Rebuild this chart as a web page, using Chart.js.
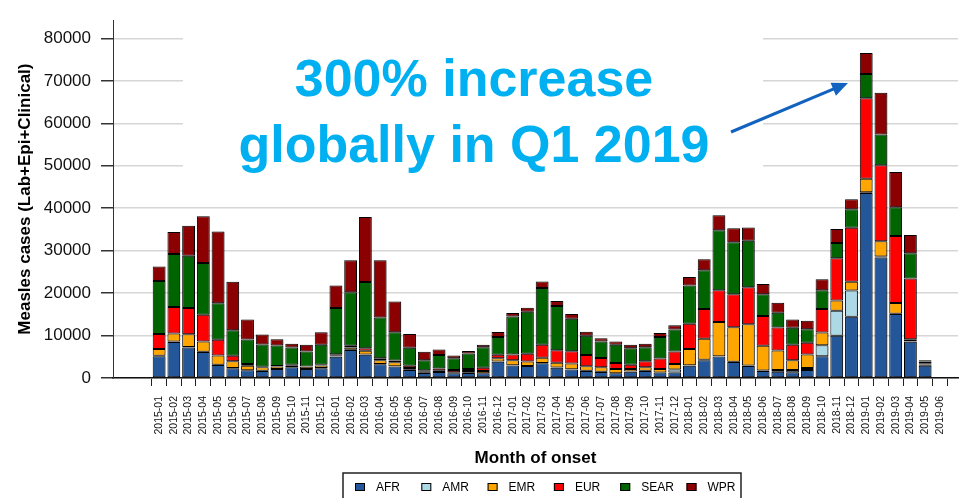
<!DOCTYPE html>
<html>
<head>
<meta charset="utf-8">
<script src="https://cdn.jsdelivr.net/npm/chart.js@4.4.1/dist/chart.umd.min.js"></script>
<style>
  body { margin: 0; background: #fff; }
  #wrap { width: 977px; height: 498px; }
</style>
</head>
<body>
<div id="wrap"><canvas id="measles" width="977" height="498"></canvas></div>
<script>
// Monthly measles cases by WHO region, 2015-01 .. 2019-06
const months = [
  '2015-01','2015-02','2015-03','2015-04','2015-05','2015-06','2015-07','2015-08','2015-09','2015-10','2015-11','2015-12',
  '2016-01','2016-02','2016-03','2016-04','2016-05','2016-06','2016-07','2016-08','2016-09','2016-10','2016-11','2016-12',
  '2017-01','2017-02','2017-03','2017-04','2017-05','2017-06','2017-07','2017-08','2017-09','2017-10','2017-11','2017-12',
  '2018-01','2018-02','2018-03','2018-04','2018-05','2018-06','2018-07','2018-08','2018-09','2018-10','2018-11','2018-12',
  '2019-01','2019-02','2019-03','2019-04','2019-05','2019-06'
];

const afr = [5100, 8500, 7200, 6100, 3050, 2300, 1800, 1650, 2100, 2550, 2100, 2300,
  5000, 6600, 5450, 3250, 2700, 1900, 1200, 1400, 1100, 1200, 1100, 3850,
  2950, 2800, 3480, 2400, 2000, 1650, 1420, 1100, 1500, 1650, 1270, 1300,
  2900, 4200, 5050, 3750, 2850, 1650, 1500, 1370, 1900, 5100, 9950, 14450,
  43600, 28400, 15100, 8550, 2900, 150];
const amr = [150, 100, 100, 100, 80, 60, 50, 40, 30, 30, 30, 50,
  100, 80, 80, 50, 50, 30, 30, 30, 30, 30, 30, 50,
  50, 50, 50, 50, 50, 30, 30, 30, 30, 30, 30, 700,
  100, 80, 60, 60, 100, 100, 400, 500, 450, 2600, 5870, 6170,
  150, 200, 60, 100, 300, 20];
const emr = [1600, 1900, 3000, 2400, 2200, 1600, 1050, 820, 600, 450, 500, 600,
  250, 500, 900, 900, 950, 400, 350, 300, 250, 400, 500, 750,
  1200, 1050, 1270, 1130, 1380, 1060, 1060, 1000, 600, 830, 830, 1270,
  3860, 4940, 8070, 8150, 9700, 5870, 4580, 2320, 3210, 3040, 2440, 2060,
  3200, 3630, 2520, 500, 100, 10];
const eur = [3500, 6200, 6200, 6300, 3700, 1300, 380, 160, 100, 80, 80, 150,
  250, 400, 580, 450, 450, 570, 250, 500, 500, 500, 800, 840,
  1360, 1820, 3050, 2970, 2890, 2670, 2210, 1380, 990, 1450, 2440, 2980,
  5940, 7010, 7470, 7780, 8760, 7010, 5410, 3660, 2740, 5490, 9980, 12720,
  18970, 17910, 15770, 14320, 200, 10];
const sear = [12500, 12500, 12300, 12200, 8600, 6000, 5800, 5200, 4800, 4050, 3550, 4750,
  10900, 12600, 15600, 9600, 6650, 4200, 2350, 3200, 2750, 3650, 4800, 4190,
  8920, 9900, 13330, 10440, 7620, 4570, 3890, 4340, 3890, 3280, 5110, 5180,
  8990, 9140, 14170, 12260, 10900, 5110, 3500, 3960, 3210, 4420, 3580, 4350,
  5720, 7240, 6780, 5940, 400, 20];
const wpr = [3400, 5200, 7100, 11000, 16900, 11400, 4700, 2400, 1500, 920, 1550, 2950,
  5300, 7550, 15300, 13500, 7250, 3270, 1980, 1300, 700, 600, 620, 1140,
  840, 920, 1530, 1150, 1150, 920, 760, 760, 840, 840, 910, 990,
  1980, 2600, 3510, 3280, 3120, 2430, 2360, 1980, 1980, 2590, 3280, 2360,
  4950, 9830, 8310, 4270, 290, 20];

const regions = ['AFR', 'AMR', 'EMR', 'EUR', 'SEAR', 'WPR'];
const yTicks = [0, 5000, 10000, 15000, 20000, 25000, 30000, 35000, 40000,
  45000, 50000, 55000, 60000, 65000, 70000, 75000, 80000];

const colors = ['#23579a', '#add8e6', '#ffa500', '#ff0000', '#006400', '#8b0000'];
const series = [afr, amr, emr, eur, sear, wpr];

function toPoints(arr) {
  return arr.map((v, i) => ({ x: i, y: v }));
}

// white box behind the callout, soft bar shadows, then callout text + arrow
const calloutPlugin = {
  id: 'callout',
  beforeDatasetsDraw(chart) {
    const ctx = chart.ctx;
    ctx.save();
    ctx.fillStyle = '#fff';
    ctx.fillRect(183, 36, 580, 154);
    ctx.restore();
    ctx.save();
    ctx.shadowColor = 'rgba(0,0,0,0.35)';
    ctx.shadowOffsetX = 1.5;
    ctx.shadowOffsetY = 1;
    ctx.shadowBlur = 1.5;
  },
  afterDatasetsDraw(chart) {
    chart.ctx.restore();
  },
  afterDraw(chart) {
    const ctx = chart.ctx;
    ctx.save();
    ctx.fillStyle = '#00b0f0';
    ctx.font = 'bold 52px "Liberation Sans", Arial, sans-serif';
    ctx.textAlign = 'center';
    ctx.textBaseline = 'alphabetic';
    ctx.fillText('300% increase', 474, 96);
    ctx.fillText('globally in Q1 2019', 474, 162);

    // arrow
    const x1 = 731, y1 = 132, x2 = 848, y2 = 83;
    const ang = Math.atan2(y2 - y1, x2 - x1);
    const head = 16;
    ctx.strokeStyle = '#1262c0';
    ctx.fillStyle = '#1262c0';
    ctx.lineWidth = 3;
    ctx.beginPath();
    ctx.moveTo(x1, y1);
    ctx.lineTo(x2 - head * 0.8 * Math.cos(ang), y2 - head * 0.8 * Math.sin(ang));
    ctx.stroke();
    ctx.beginPath();
    ctx.moveTo(x2, y2);
    ctx.lineTo(x2 - head * Math.cos(ang) + 7 * Math.sin(ang), y2 - head * Math.sin(ang) - 7 * Math.cos(ang));
    ctx.lineTo(x2 - head * Math.cos(ang) - 7 * Math.sin(ang), y2 - head * Math.sin(ang) + 7 * Math.cos(ang));
    ctx.closePath();
    ctx.fill();
    ctx.restore();
  }
};

// boxed legend with evenly spaced entries, like the original
const boxLegendPlugin = {
  id: 'boxLegend',
  afterDraw(chart) {
    const ctx = chart.ctx;
    ctx.save();
    ctx.strokeStyle = '#222';
    ctx.lineWidth = 1.5;
    ctx.strokeRect(343, 473, 398, 30);
    ctx.font = '12px "Liberation Sans", Arial, sans-serif';
    ctx.textBaseline = 'middle';
    ctx.textAlign = 'left';
    chart.data.datasets.forEach((ds, i) => {
      const x = 355 + i * 66.3;
      const y = 487;
      ctx.fillStyle = ds.backgroundColor;
      ctx.fillRect(x, y - 4, 10, 8);
      ctx.strokeStyle = '#000';
      ctx.lineWidth = 1;
      ctx.strokeRect(x + 0.5, y - 3.5, 9, 7);
      ctx.fillStyle = '#000';
      ctx.fillText(ds.label, x + 21, y + 1);
    });
    ctx.restore();
  }
};

const ctx = document.getElementById('measles').getContext('2d');
const chart = new Chart(ctx, {
  type: 'bar',
  data: {
    datasets: regions.map((r, i) => ({
      label: r,
      data: toPoints(series[i]),
      backgroundColor: colors[i],
      borderColor: '#000',
      borderWidth: 1,
      borderSkipped: false,
      barPercentage: 0.87,
      categoryPercentage: 1
    }))
  },
  options: {
    responsive: false,
    animation: false,
    layout: { padding: { left: 0, right: 19, top: 9, bottom: 29 } },
    plugins: {
      legend: { display: false },
      tooltip: { enabled: false }
    },
    scales: {
      x: {
        type: 'linear',
        stacked: true,
        min: -2.6,
        max: 53.7,
        afterBuildTicks(scale) {
          scale.ticks = months.map((m, i) => ({ value: i }));
        },
        afterFit(scale) { scale.height = 91; },
        ticks: {
          autoSkip: false,
          minRotation: 90,
          maxRotation: 90,
          padding: 10,
          color: '#111',
          font: { family: '"Liberation Sans", Arial, sans-serif', size: 10.5 },
          callback: (v, idx) => months[idx]
        },
        grid: { drawOnChartArea: false, drawTicks: true, tickLength: 8, tickColor: '#222', lineWidth: 1 },
        border: { display: true, color: '#111', width: 1.5 },
        title: {
          display: true,
          text: 'Month of onset',
          color: '#000',
          padding: { top: 0, bottom: 0 },
          font: { family: '"Liberation Sans", Arial, sans-serif', size: 17, weight: 'bold' }
        }
      },
      y: {
        stacked: true,
        min: 0,
        max: 84300,
        afterBuildTicks(scale) {
          scale.ticks = yTicks.map(v => ({ value: v }));
        },
        afterFit(scale) { scale.width = 113; },
        ticks: {
          padding: 10,
          color: '#111',
          font: { family: '"Liberation Sans", Arial, sans-serif', size: 17 },
          callback: v => String(v)
        },
        grid: { color: '#d6d6d6', lineWidth: 1.5, tickLength: 12, tickColor: '#333' },
        border: { display: true, color: '#333', width: 1 },
        title: {
          display: true,
          text: 'Measles cases (Lab+Epi+Clinical)',
          color: '#000',
          padding: { top: 15, bottom: 0 },
          font: { family: '"Liberation Sans", Arial, sans-serif', size: 17, weight: 'bold' }
        }
      }
    }
  },
  plugins: [calloutPlugin, boxLegendPlugin]
});
</script>
</body>
</html>
